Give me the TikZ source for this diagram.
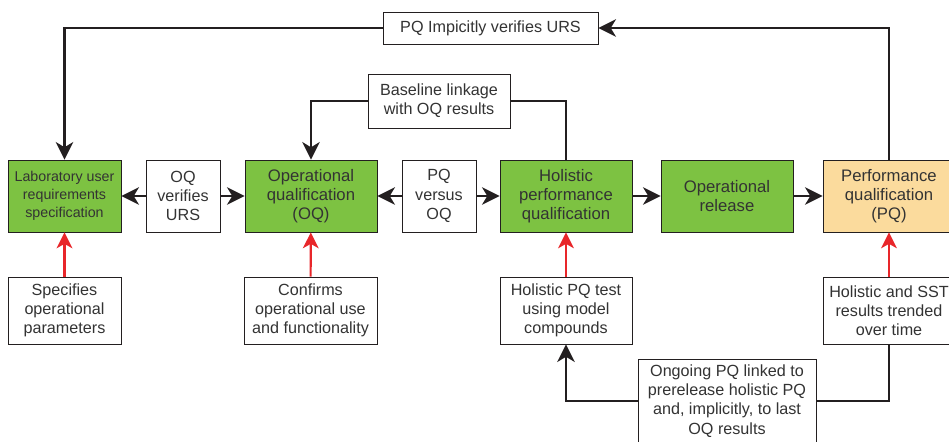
\documentclass[tikz,border=0pt]{standalone}
\usepackage{fontspec}
\setmainfont{Liberation Sans}
\usepackage{tikz}
\usetikzlibrary{arrows.meta}

\definecolor{boxgreen}{HTML}{7DC242}
\definecolor{boxpeach}{HTML}{FBDB9D}
\definecolor{linegray}{HTML}{231F20}
\definecolor{textgray}{HTML}{333333}
\definecolor{arrowred}{HTML}{E8262A}

\begin{document}
\begin{tikzpicture}[x=0.02cm,y=-0.02cm,
    box/.style={draw=linegray,line width=0.5pt,align=center,inner sep=0pt,
        text=textgray,font=\fontsize{9.2}{10.9}\selectfont},
    stage/.style={box,fill=boxgreen,minimum width=2.64cm,minimum height=1.44cm,
        font=\fontsize{9.5}{10.9}\selectfont},
    note/.style={box,fill=white,minimum width=1.48cm,minimum height=1.44cm},
    base/.style={box,fill=white,minimum width=2.64cm,minimum height=1.34cm},
    link/.style={draw=linegray,line width=1.2pt,-{Stealth[length=10pt,width=10pt,inset=3pt]}},
    plain/.style={draw=linegray,line width=1.2pt},
    feed/.style={draw=arrowred,line width=1.2pt,-{Stealth[length=9pt,width=9pt,inset=2.5pt]}}]
    \useasboundingbox (0,0) rectangle (949,441);

    % main row
    \node[stage,minimum width=2.26cm,font=\fontsize{8.1}{10.2}\selectfont] (lurs) at (64.5,196) {Laboratory user\\requirements\\specification};
    \node[note] (ovu) at (183,196) {OQ\\verifies\\URS};
    \node[stage] (oq) at (311,196) {Operational\\qualification\\(OQ)};
    \node[note] (pvo) at (439,196) {PQ\\versus\\OQ};
    \node[stage] (hpq) at (566,196) {Holistic\\performance\\qualification};
    \node[stage] (orel) at (727,196) {Operational\\release};
    \node[stage,fill=boxpeach] (pq) at (889,196) {Performance\\qualification\\(PQ)};

    % labels above
    \node[box,fill=white,minimum width=4.3cm,minimum height=0.64cm] (pqurs) at (490.5,28) {PQ Impicitly verifies URS};
    \node[box,fill=white,minimum width=2.84cm,minimum height=1.08cm] (bline) at (439,101) {Baseline linkage\\with OQ results};

    % boxes below
    \node[base,minimum width=2.26cm] (spec) at (64.5,310.5) {Specifies\\operational\\parameters};
    \node[base,minimum width=2.66cm] (conf) at (310.5,310.5) {Confirms\\operational use\\and functionality};
    \node[base] (hpt) at (566,310.5) {Holistic PQ test\\using model\\compounds};
    \node[base] (sst) at (889,310.5) {Holistic and SST\\results trended\\over time};
    \node[box,fill=white,minimum width=3.56cm,minimum height=1.68cm] (ongo) at (727,401) {Ongoing PQ linked to\\prerelease holistic PQ\\and, implicitly, to last\\OQ results};

    % connectors
    \draw[link] (ovu) -- (lurs);
    \draw[link] (ovu) -- (oq);
    \draw[link] (pvo) -- (oq);
    \draw[link] (pvo) -- (hpq);
    \draw[link] (hpq) -- (orel);
    \draw[link] (orel) -- (pq);

    \draw[link] (pq.north) |- (pqurs.east);
    \draw[link] (pqurs.west) -| (lurs.north);
    \draw[link] (bline.west) -| (oq.north);
    \draw[plain] (bline.east) -| (hpq.north);
    \draw[link] (ongo.west) -| (hpt.south);
    \draw[plain] (ongo.east) -| (sst.south);

    \draw[feed] (spec) -- (lurs);
    \draw[feed] (conf) -- (oq);
    \draw[feed] (hpt) -- (hpq);
    \draw[feed] (sst) -- (pq);
\end{tikzpicture}
\end{document}
